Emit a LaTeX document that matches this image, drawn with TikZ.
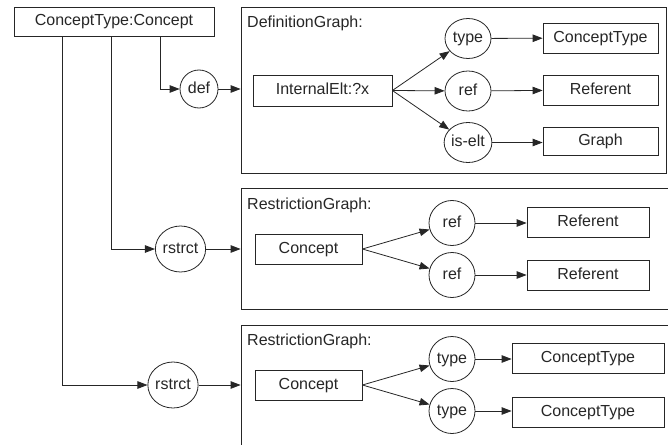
\documentclass[tikz,border=0pt]{standalone}
\usepackage{fontspec}
\setmainfont{Liberation Sans}
\usetikzlibrary{arrows.meta,shapes.geometric}
\definecolor{ink}{gray}{0.15}
\tikzset{
  base/.style={draw=ink, text=ink, line width=0.8pt, inner sep=0pt,
    font=\fontsize{16}{19}\selectfont, text height=11.5pt, text depth=3.3pt},
  box/.style={base, rectangle, minimum height=30pt},
  rel/.style={base, ellipse, minimum width=46pt, minimum height=42pt},
  graphbox/.style={draw=ink, line width=0.8pt, rectangle, inner sep=0pt},
  glabel/.style={text=ink, inner sep=0pt, anchor=base west, font=\fontsize{16}{19}\selectfont},
  arr/.style={draw=ink, line width=0.8pt, -{Triangle[length=10pt,width=7.5pt]}},
  ln/.style={draw=ink, line width=0.8pt}
}
\begin{document}
\begin{tikzpicture}[x=1pt,y=-1pt]
\useasboundingbox (0,0) rectangle (668,444);
\clip (0,0) rectangle (668,444);

% top concept
\node[box, minimum width=200pt, minimum height=29pt] (top) at (114,21.5) {ConceptType:Concept};

% definition graph
\node[graphbox, minimum width=425.5pt, minimum height=166pt] (dg) at (453.75,90) {};
\node[glabel] (dgl) at (247,28) {DefinitionGraph:};
\node[rel, minimum width=38pt, minimum height=38pt] (def) at (199,89) {def};
\node[box, minimum width=139pt, minimum height=31pt] (ie) at (322.5,90.5) {InternalElt:?x};
\node[rel, minimum height=40pt] (t1) at (468,38.5) {type};
\node[rel, minimum height=40pt] (r1) at (468,91) {ref};
\node[rel, minimum height=40pt] (e1) at (468,142.5) {is-elt};
\node[box, minimum width=115pt] (ct1) at (600.5,38) {ConceptType};
\node[box, minimum width=115pt] (rf1) at (600.5,90) {Referent};
\node[box, minimum width=115pt, minimum height=28pt] (gr1) at (600.5,141) {Graph};

% restriction graph 1
\node[graphbox, minimum width=439pt, minimum height=121pt] (rg1) at (460.5,248.5) {};
\node[glabel] (rg1l) at (247,209) {RestrictionGraph:};
\node[rel, minimum height=46pt] (rs1) at (180.5,249) {rstrct};
\node[box, minimum width=107pt] (c1) at (308.5,249) {Concept};
\node[rel, minimum height=45pt] (r2a) at (452,223) {ref};
\node[rel, minimum height=45pt] (r2b) at (452,275) {ref};
\node[box, minimum width=122pt] (rf2a) at (588,222) {Referent};
\node[box, minimum width=122pt] (rf2b) at (588,275) {Referent};

% restriction graph 2
\node[graphbox, minimum width=439pt, minimum height=135pt] (rg2) at (460.5,392.5) {};
\node[glabel] (rg2l) at (247,345) {RestrictionGraph:};
\node[rel, minimum height=46pt] (rs2) at (173,385) {rstrct};
\node[box, minimum width=107pt] (c2) at (308.5,385) {Concept};
\node[rel, minimum height=45pt] (t3a) at (452,359) {type};
\node[rel, minimum height=45pt] (t3b) at (452,411) {type};
\node[box, minimum width=152pt] (ct3a) at (588,358) {ConceptType};
\node[box, minimum width=152pt] (ct3b) at (588,412) {ConceptType};

% connectors from top concept
\draw[arr] ([xshift=147pt]top.south west) |- (def);
\draw[arr] ([xshift=98pt]top.south west) |- (rs1);
\draw[arr] ([xshift=49pt]top.south west) |- (rs2);

\draw[arr] (def) -- (def -| dg.west);
\draw[arr] (rs1) -- (rs1 -| rg1.west);
\draw[arr] (rs2) -- (rs2 -| rg2.west);

% definition graph arcs
\draw[arr] (ie.east) -- (t1);
\draw[arr] (ie.east) -- (r1);
\draw[arr] (ie.east) -- (e1);
\draw[arr] (t1) -- (ct1);
\draw[arr] (r1) -- (rf1);
\draw[arr] (e1) -- (e1 -| gr1.west);

% restriction 1 arcs
\draw[arr] (c1.east) -- (r2a);
\draw[arr] (c1.east) -- (r2b);
\draw[arr] (r2a) -- (r2a -| rf2a.west);
\draw[arr] (r2b) -- (rf2b);

% restriction 2 arcs
\draw[arr] (c2.east) -- (t3a);
\draw[arr] (c2.east) -- (t3b);
\draw[arr] (t3a) -- (t3a -| ct3a.west);
\draw[arr] (t3b) -- (t3b -| ct3b.west);
\end{tikzpicture}
\end{document}
